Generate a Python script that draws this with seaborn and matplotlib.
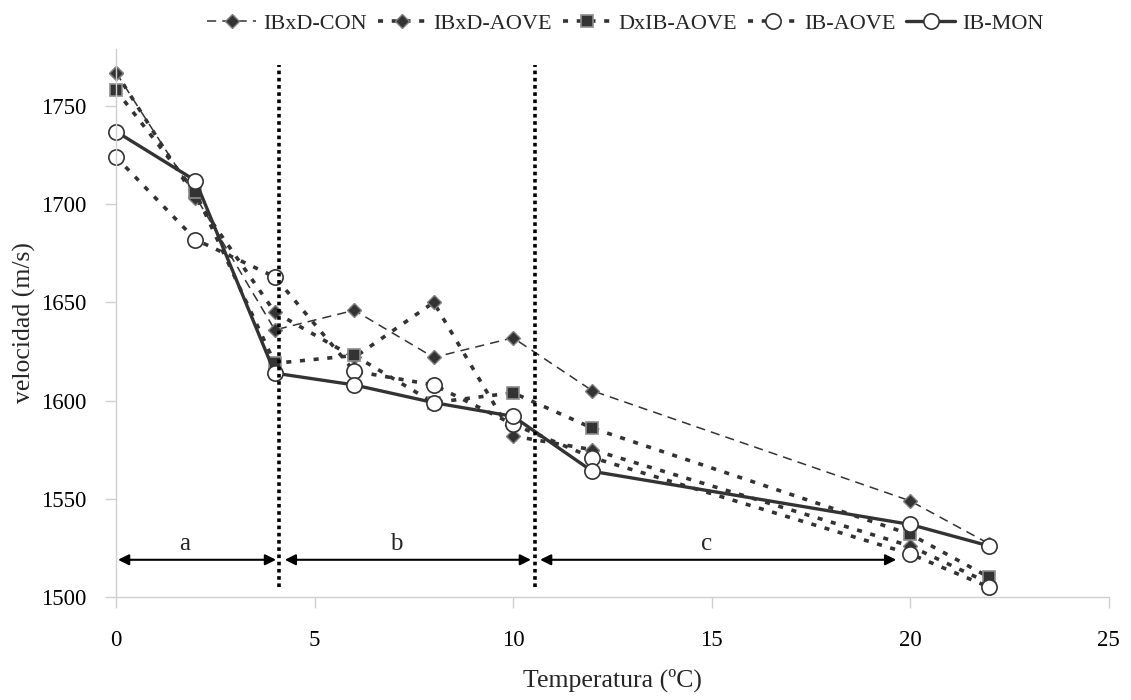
import matplotlib
matplotlib.use("Agg")
import matplotlib.pyplot as plt
import pandas as pd
import seaborn as sns

# temperatures (ºC) and velocities (m/s)
temps = [0, 2, 4, 6, 8, 10, 12, 20, 22]
ibxd_con = [1767, 1704, 1636, 1646, 1622, 1632, 1605, 1549, 1527]
ibxd_aove = [1767, 1703, 1645, 1622, 1650, 1582, 1575, 1526, 1507]
dxib_aove = [1758, 1706, 1619, 1623, 1599, 1604, 1586, 1532, 1510]
ib_aove = [1724, 1682, 1663, 1615, 1608, 1588, 1571, 1522, 1505]
ib_mon = [1737, 1712, 1614, 1608, 1599, 1592, 1564, 1537, 1526]

series_names = ["IBxD-CON", "IBxD-AOVE", "DxIB-AOVE", "IB-AOVE", "IB-MON"]
series_values = [ibxd_con, ibxd_aove, dxib_aove, ib_aove, ib_mon]

# zone limits and labels
zone_bounds = [4.1, 10.55]
zones = [("a", 0.05, 4.03), ("b", 4.25, 10.45), ("c", 10.68, 19.65)]

sns.set_theme(style="white")
plt.rcParams["font.family"] = ["Liberation Serif", "DejaVu Serif"]

dark = "#333333"
dots = (0, (1.4, 2.4))
styles = {
    "IBxD-CON": dict(linestyle=(0, (6, 4)), linewidth=1.1, marker="D", markersize=7,
                     markerfacecolor=dark, markeredgecolor="#7f7f7f", markeredgewidth=1.0),
    "IBxD-AOVE": dict(linestyle=dots, linewidth=2.6, marker="D", markersize=7,
                      markerfacecolor=dark, markeredgecolor="#7f7f7f", markeredgewidth=1.0),
    "DxIB-AOVE": dict(linestyle=dots, linewidth=2.6, marker="s", markersize=9,
                      markerfacecolor=dark, markeredgecolor="#8c8c8c", markeredgewidth=1.2),
    "IB-AOVE": dict(linestyle=dots, linewidth=2.6, marker="o", markersize=11,
                    markerfacecolor="white", markeredgecolor=dark, markeredgewidth=1.2),
    "IB-MON": dict(linestyle="-", linewidth=2.4, marker="o", markersize=11,
                   markerfacecolor="white", markeredgecolor=dark, markeredgewidth=1.2),
}

fig = plt.figure(figsize=(11.31, 7.0), dpi=100)
ax = fig.add_axes([0.1026, 0.147, 0.8776, 0.783])

for name, vals in zip(series_names, series_values):
    df = pd.DataFrame({"T": temps, "v": vals})
    sns.lineplot(data=df, x="T", y="v", ax=ax, color=dark, label=name,
                 errorbar=None, clip_on=False, **styles[name])

for xb in zone_bounds:
    ax.plot([xb, xb], [1505, 1771], color="black", linestyle=(0, (1, 1)), linewidth=2.6, zorder=5)

for lab, x0, x1 in zones:
    ax.annotate("", xy=(x1, 1519), xytext=(x0, 1519),
                arrowprops=dict(arrowstyle="<|-|>", color="black", lw=1.5,
                                mutation_scale=16, shrinkA=0, shrinkB=0))
    ax.text((x0 + x1) / 2 - 0.3, 1527, lab, ha="center", va="center", fontsize=18)

ax.set_xlim(0, 25)
ax.set_ylim(1500, 1779)
ax.set_xticks([0, 5, 10, 15, 20, 25])
ax.set_yticks([1500, 1550, 1600, 1650, 1700, 1750])
ax.tick_params(axis="both", labelsize=16.5, colors="black", length=8, width=1,
               color="#d0d0d0", direction="out", left=True, bottom=True)
ax.tick_params(axis="x", pad=16)
ax.tick_params(axis="y", pad=13)
for side in ["top", "right"]:
    ax.spines[side].set_visible(False)
for side in ["left", "bottom"]:
    ax.spines[side].set_color("#d0d0d0")
    ax.spines[side].set_linewidth(1)

ax.set_xlabel("Temperatura (ºC)", fontsize=18.5, labelpad=12)
ax.set_ylabel("velocidad (m/s)", fontsize=18.5, labelpad=4)

ax.get_legend().remove()
handles, labels = ax.get_legend_handles_labels()
fig.legend(handles, labels, loc="upper center", bbox_to_anchor=(0.553, 1.0), ncol=5,
           frameon=False, fontsize=16, handlelength=2.2, handletextpad=0.3,
           columnspacing=0.5, borderaxespad=0.2)

fig.savefig("out.png", dpi=100)
